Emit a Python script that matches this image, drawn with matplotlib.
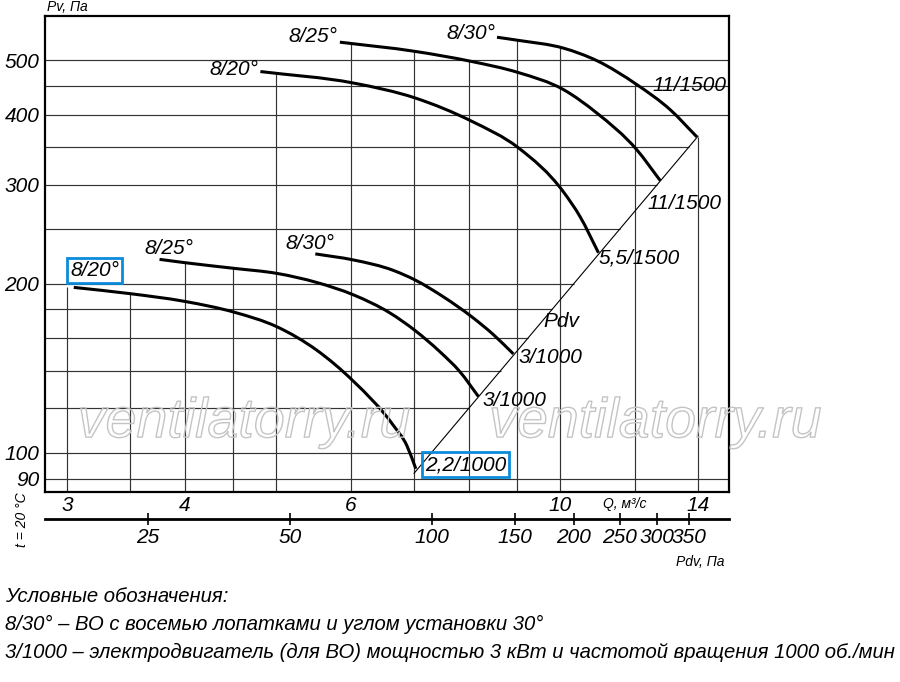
import numpy as np
import matplotlib
matplotlib.use('Agg')
import matplotlib.pyplot as plt
from matplotlib import patheffects
from matplotlib.path import Path
from matplotlib.patches import PathPatch
from matplotlib.ticker import FixedLocator, FixedFormatter, NullLocator

plt.rcParams['font.family'] = ['Liberation Sans', 'DejaVu Sans']
plt.rcParams['font.style'] = 'italic'

# характеристики ВО, Q (м3/с) -> Pv (Па)
q_20_1000 = [3.05, 3.50, 4.00, 4.51, 5.01, 5.52, 6.04, 6.65, 6.88, 7.03]
p_20_1000 = [197, 192, 186, 178, 167.6, 152.3, 134, 112.1, 102.9, 93.7]

q_25_1000 = [3.76, 4.00, 4.51, 5.01, 5.52, 6.04, 6.60, 7.02, 7.46, 7.83, 8.19]
p_25_1000 = [221, 218, 213, 208.6, 201, 191, 177.4, 165, 151.2, 139.4, 126]

q_30_1000 = [5.50, 6.04, 6.65, 7.02, 7.52, 8.06, 8.50, 8.92]
p_30_1000 = [226, 220.4, 211.3, 203, 189.5, 174.6, 162.2, 150]

q_20_1500 = [4.81, 6.04, 7.02, 8.06, 9.03, 10.08, 10.50, 10.98]
p_20_1500 = [477, 455, 428, 389, 349, 291.3, 263, 227]

q_25_1500 = [5.84, 7.02, 8.06, 9.03, 10.08, 10.93, 12.06, 12.77]
p_25_1500 = [538, 518, 497, 475, 443, 402.7, 346, 305]

q_30_1500 = [8.57, 9.03, 10.08, 10.93, 12.06, 13.08, 13.96]
p_30_1500 = [549, 542, 525, 499, 452, 408, 365]

# линия динамического давления Pdv
pdv_line_q = [7.0, 14.0]
pdv_line_p = [92, 366]
PDV_K = 1.87  # Pdv = K * Q^2

grid_q = [3, 3.5, 4, 4.5, 5, 6, 7, 8, 9, 10, 12, 14]
grid_p = [90, 100, 120, 140, 160, 180, 200, 250, 300, 350, 400, 450, 500]

q_ticks = [3, 4, 6, 10, 14]
p_ticks = [90, 100, 200, 300, 400, 500]
pdv_ticks = [25, 50, 100, 150, 200, 250, 300, 350]

# (q, p, подпись угла, подпись двигателя, смещения в пикселях, рамка)
curves = [
    (q_20_1000, p_20_1000, '8/20°', '2,2/1000', (21, 17, 'center'), (9, 4), True),
    (q_25_1000, p_25_1000, '8/25°', '3/1000', (9, 11, 'center'), (4, -4), False),
    (q_30_1000, p_30_1000, '8/30°', '3/1000', (-5, 10, 'center'), (5, -4), False),
    (q_20_1500, p_20_1500, '8/20°', '5,5/1500', (-2, 2, 'right'), (0, -5), False),
    (q_25_1500, p_25_1500, '8/25°', '11/1500', (-2, 6, 'right'), (-13, -23), False),
    (q_30_1500, p_30_1500, '8/30°', '11/1500', (-2, 4, 'right'), (-44, 51), False),
]

BLUE = '#0a8bdc'
XLIM = (2.843, 15.1)
YLIM = (85.2, 599)


def smooth_path(q, p):
    # плавная кривая через точки (кубический Эрмит в лог. координатах)
    x = np.log10(q)
    y = np.log10(p)
    n = len(x)
    h = np.diff(x)
    d = np.diff(y) / h
    m = np.empty(n)
    for i in range(1, n - 1):
        m[i] = (d[i - 1] * h[i] + d[i] * h[i - 1]) / (h[i - 1] + h[i])
    m[0] = d[0]
    m[-1] = d[-1]
    verts = [(x[0], y[0])]
    codes = [Path.MOVETO]
    for i in range(n - 1):
        verts += [(x[i] + h[i] / 3, y[i] + m[i] * h[i] / 3),
                  (x[i + 1] - h[i] / 3, y[i + 1] - m[i + 1] * h[i] / 3),
                  (x[i + 1], y[i + 1])]
        codes += [Path.CURVE4] * 3
    return Path(10 ** np.array(verts), codes)


fig = plt.figure(figsize=(9, 6.82), dpi=100)
ax = fig.add_axes([0.05, 0.2786, 0.76, 0.698])
ax.set_xscale('log')
ax.set_yscale('log')
ax.set_xlim(*XLIM)
ax.set_ylim(*YLIM)

# вертикальные линии сетки доходят только до верхней кривой
for g in grid_q:
    top = YLIM[1]
    vals = []
    for q, p, *_ in curves:
        if q[0] - 0.06 <= g <= q[-1] + 0.06:
            vals.append(10 ** np.interp(np.log10(g), np.log10(q), np.log10(p)))
    if vals:
        top = max(vals)
    ax.vlines(g, YLIM[0], top, color='#333333', lw=0.85, zorder=1)

# горизонтальные линии обрываются на линии Pdv
for h in grid_p:
    right = XLIM[1]
    if pdv_line_p[0] <= h <= pdv_line_p[1]:
        right = np.sqrt(h / PDV_K)
    ax.hlines(h, XLIM[0], right, color='#333333', lw=0.85, zorder=1)

ax.plot(pdv_line_q, pdv_line_p, color='k', lw=0.8, zorder=2)

for q, p, angle, motor, soff, eoff, boxed in curves:
    ax.add_patch(PathPatch(smooth_path(q, p), fc='none', ec='k', lw=2.2,
                           capstyle='butt', zorder=3))
    bb = dict(boxstyle='square,pad=0.15', fc='none', ec=BLUE, lw=2) if boxed else None
    ax.annotate(angle, (q[0], p[0]), xytext=soff[:2], textcoords='offset pixels',
                ha=soff[2], va='center', fontsize=15, bbox=bb, zorder=4)
    ax.annotate(motor, (q[-1], p[-1]), xytext=eoff, textcoords='offset pixels',
                ha='left', va='center', fontsize=15, bbox=bb, zorder=4)

ax.text(9.6, 171, 'Pdv', ha='left', va='center', fontsize=15, zorder=4)

ax.xaxis.set_major_locator(FixedLocator(q_ticks))
ax.xaxis.set_major_formatter(FixedFormatter([str(t) for t in q_ticks]))
ax.xaxis.set_minor_locator(NullLocator())
ax.yaxis.set_major_locator(FixedLocator(p_ticks))
ax.yaxis.set_major_formatter(FixedFormatter([str(t) for t in p_ticks]))
ax.yaxis.set_minor_locator(NullLocator())
ax.tick_params(axis='x', length=0, labelsize=15, pad=3)
ax.tick_params(axis='y', length=0, labelsize=15, pad=4)
for s in ax.spines.values():
    s.set_linewidth(1.6)

sec = ax.secondary_xaxis(-0.0567, functions=(lambda x: PDV_K * np.asarray(x) ** 2,
                                             lambda x: np.sqrt(np.asarray(x) / PDV_K)))
sec.xaxis.set_major_locator(FixedLocator(pdv_ticks))
sec.xaxis.set_major_formatter(FixedFormatter([str(t) for t in pdv_ticks]))
sec.xaxis.set_minor_locator(NullLocator())
sec.tick_params(direction='inout', length=8.5, width=1.2, labelsize=15, pad=2)
sec.spines['bottom'].set_linewidth(2)

# водяной знак
for xc in (0.271, 0.728):
    fig.text(xc, 0.359, 'ventilatorry.ru', ha='center', va='baseline', fontsize=40,
             color=(1, 1, 1, 0), zorder=5,
             path_effects=[patheffects.Stroke(linewidth=1, foreground='#c4c4c4')])

fig.text(47 / 900, 1 - 7 / 682, 'Pv, Па', ha='left', va='center', fontsize=10)
fig.text(625 / 900, 1 - 504 / 682, 'Q, м³/с', ha='center', va='center', fontsize=10)
fig.text(725 / 900, 1 - 562 / 682, 'Pdv, Па', ha='right', va='center', fontsize=10)
fig.text(22.5 / 900, 1 - 519.5 / 682, 't = 20 °C', rotation=90, ha='center', va='center', fontsize=10)

legend_lines = [
    'Условные обозначения:',
    '8/30° – ВО с восемью лопатками и углом установки 30°',
    '3/1000 – электродвигатель (для ВО) мощностью 3 кВт и частотой вращения 1000 об./мин',
]
for i, line in enumerate(legend_lines):
    fig.text(5 / 900, 1 - (597 + 27.5 * i) / 682, line, ha='left', va='center', fontsize=14.6)

fig.savefig('out.png', dpi=100)
